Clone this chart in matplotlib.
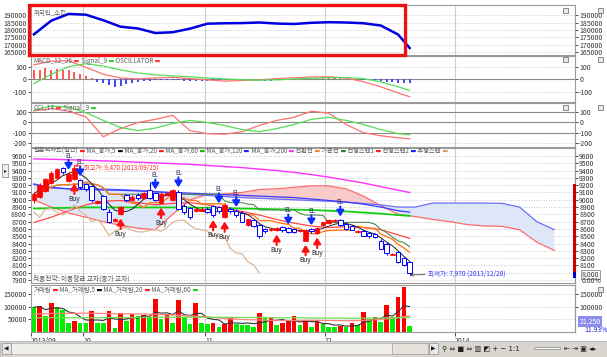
import numpy as np
import pandas as pd
import matplotlib
matplotlib.use("Agg")
import matplotlib.pyplot as plt
from matplotlib.patches import Rectangle

plt.rcParams['font.family'] = ['Noto Sans CJK KR', 'DejaVu Sans']
plt.rcParams['axes.unicode_minus'] = False

# ---------------- data ----------------
opens = [8990, 9040, 9120, 9230, 9300, 9430, 9260, 9290, 9270, 9210, 9190, 8960, 9050, 8830, 8710, 8800,
         9060, 8990, 9070, 9020, 9130, 9090, 8950, 9070, 8990, 9100, 8920, 8890, 8840, 8850, 8880, 8910,
         8900, 8770, 8880, 8850, 8820, 8650, 8720, 8660, 8600, 8580, 8580, 8630, 8610, 8600, 8570, 8440,
         8600, 8540, 8650, 8680, 8710, 8720, 8670, 8640, 8560, 8570, 8540, 8530, 8440, 8400, 8250, 8280,
         8200, 8150]
highs = [9100, 9230, 9300, 9390, 9440, 9450, 9380, 9470, 9290, 9230, 9200, 9000, 9070, 8870, 8750, 8920,
         9080, 9060, 9090, 9110, 9240, 9110, 9100, 9110, 9150, 9140, 8940, 8900, 8890, 8900, 8900, 8930,
         8920, 8950, 8900, 8870, 8850, 8740, 8740, 8670, 8620, 8610, 8630, 8640, 8630, 8610, 8590, 8600,
         8620, 8630, 8700, 8730, 8730, 8740, 8680, 8650, 8580, 8590, 8560, 8540, 8460, 8420, 8270, 8300,
         8210, 8160]
lows = [8960, 9020, 9100, 9210, 9280, 9350, 9240, 9270, 9150, 9120, 8970, 8940, 8860, 8680, 8690, 8790,
        8970, 8980, 9000, 9010, 9010, 8980, 8940, 9060, 8980, 8860, 8810, 8740, 8830, 8840, 8820, 8770,
        8820, 8750, 8820, 8770, 8690, 8640, 8630, 8480, 8550, 8570, 8570, 8560, 8550, 8540, 8560, 8430,
        8550, 8530, 8640, 8670, 8700, 8640, 8590, 8580, 8550, 8500, 8480, 8480, 8320, 8250, 8240, 8130,
        8090, 7970]
closes = [9080, 9200, 9280, 9370, 9420, 9380, 9350, 9440, 9170, 9150, 8990, 8980, 8880, 8700, 8730, 8900,
          8990, 9040, 9020, 9090, 9030, 9000, 9080, 9090, 9130, 8880, 8830, 8760, 8870, 8880, 8830, 8790,
          8840, 8930, 8840, 8790, 8700, 8730, 8640, 8510, 8570, 8600, 8620, 8580, 8560, 8560, 8580, 8590,
          8570, 8620, 8690, 8720, 8720, 8650, 8600, 8590, 8570, 8510, 8500, 8490, 8330, 8270, 8260, 8150,
          8110, 8000]
volumes = [96700, 103300, 62000, 112700, 96700, 86000, 32700, 43300, 35300, 32700, 83300, 35300, 34000,
           83300, 15300, 72700, 43300, 70000, 63300, 66000, 59300, 130000, 48700, 70000, 32700, 126000,
           59300, 30000, 112700,
           35300, 30000, 35800, 16700, 30000, 59300, 30000, 26000, 25000, 16700, 75300, 52700, 53500,
           26000, 32700, 43300, 62000, 26000, 46000, 19300, 42000, 28700, 19300, 19000, 22000, 16700,
           35300, 26000, 79300, 48700, 59300, 39300, 106000, 52700, 139000,
           179000, 21250]
el_signals = [6, 8, 21, 25, 32, 35, 44, 48, 53]
buy_signals = [7, 15, 22, 31, 33, 42, 47, 49]

line_idx = [0, 3, 6, 9, 12, 15, 18, 21, 24, 27, 30, 33, 36, 39, 42, 45, 48, 51, 54, 57, 60, 63, 65]
foreign_hold = [177100, 186200, 190700, 190200, 186500, 182200, 181000, 178000, 178500, 180900, 184200,
                184500, 184600, 185000, 184300, 184000, 184800, 185200, 185000, 184500, 183000, 177000, 168000]
macd_line = [115, 145, 148, 95, 40, 10, 3, 10, 15, 5, -5, -15, -10, -5, 5, 12, 18, 20, 10, -20, -60, -110, -140]
macd_signal = [-35, 40, 100, 125, 105, 75, 50, 35, 27, 20, 10, 2, -4, -7, -5, 2, 8, 12, 14, 5, -20, -60, -90]
macd_osc = [71, 76, 90, 76, 85, 76, 71, 57, 44, 27, 8, -19, -33, -46, -65, -55, -38, -27, -19, -14,
            -11, -8, -5, -3, -2, -6, -10, -12, -13, -12, -10, -9, -7, -5, -6, -7, -8, -10, -9, -11,
            -12, -10, -8, -5, -3, -2, 2, 4, 6, 8, 9, 10, 10, 8, 5, 3, 1, -2, -5, -9,
            -14, -18, -23, -27, -30, -32]
cci_line = [113, 135, 110, 55, -140, -60, 0, 30, 70, -80, -110, -115, -90, -30, 20, 50, 110, 90, -20, -100, -130, -150, -160]
cci_signal = [120, 160, 150, 95, 20, -50, -80, -55, -10, 20, 0, -30, -70, -90, -60, -20, 30, 50, 20, -20, -70, -110, -120]

ma20 = [8690, 8760, 8850, 8930, 8980, 8990, 8960, 8930, 8950, 8960, 8930, 8880, 8840, 8790, 8730, 8680,
        8640, 8620, 8630, 8620, 8590, 8520, 8470]
ma60 = [8880, 8885, 8890, 8895, 8895, 8895, 8895, 8895, 8895, 8893, 8890, 8885, 8880, 8875, 8870, 8865,
        8860, 8850, 8840, 8825, 8810, 8790, 8780]
ma120 = [9210, 9170, 9150, 9140, 9135, 9130, 9120, 9110, 9100, 9090, 9080, 9070, 9060, 9050, 9040, 9030,
         9010, 8990, 8970, 8940, 8900, 8850, 8830]
ma200 = [9560, 9555, 9548, 9540, 9533, 9525, 9515, 9505, 9495, 9485, 9470, 9455, 9440, 9420, 9400, 9375,
         9345, 9310, 9270, 9230, 9180, 9130, 9100]

span_idx = list(range(0, 91, 3))
span1 = [9000, 8900, 8820, 8760, 8700, 8650, 8610, 8590, 8800, 9000, 9070, 9080, 9100, 9140, 9150, 9170,
         9190, 9190, 9150, 9050, 8920, 8800, 8770, 8730, 8700, 8660, 8640, 8636, 8590, 8420, 8305]
span2 = [9220, 9160, 9150, 9150, 9145, 9140, 9130, 9110, 9090, 9075, 9060, 9045, 9030, 9020, 9010, 9000,
         8990, 8980, 8965, 8950, 8930, 8900, 8900, 8955, 8955, 8955, 8955, 8950, 8900, 8700, 8590]

vol_ma20 = [70000, 72000, 73000, 73000, 72000, 71000, 70000, 69000, 66000, 62000, 58000, 52000, 48000,
            46000, 44000, 44000, 45000, 44000, 43000, 44000, 48000, 56000, 62000]
vol_ma60 = [55000, 55000, 55000, 55000, 55000, 56000, 56000, 57000, 57000, 57000, 57000, 57000, 56000,
            56000, 55000, 55000, 54000, 54000, 53000, 53000, 54000, 55000, 56000]

month_pos = [-0.5, 8.5, 29.6, 50.3, 72.8]
month_labels = ['2013/09', '10', '11', '12', '2014']

# ---------------- derived ----------------
o = np.array(opens, float); h = np.array(highs, float)
l = np.array(lows, float); c = np.array(closes, float)
v = np.array(volumes, float)
idx = np.arange(len(c))
cs = pd.Series(c)
ma5 = cs.rolling(5, min_periods=1).mean()
conv = (pd.Series(h).rolling(9, min_periods=1).max() + pd.Series(l).rolling(9, min_periods=1).min()) / 2
base = (pd.Series(h).rolling(26, min_periods=1).max() + pd.Series(l).rolling(26, min_periods=1).min()) / 2
lag = cs.shift(-26)
vol_ma5 = pd.Series(v).rolling(5, min_periods=1).mean()

# ---------------- figure ----------------
W, H = 607, 357
fig = plt.figure(figsize=(W / 100, H / 100), dpi=100)
fig.patch.set_facecolor('white')

def pax(x0, y0, x1, y1):
    return fig.add_axes([x0 / W, 1 - y1 / H, (x1 - x0) / W, (y1 - y0) / H])

X0, X1 = 31, 575
ax_top = pax(X0, 5, X1, 55)
ax_macd = pax(X0, 56, X1, 102)
ax_cci = pax(X0, 103, X1, 147)
ax_p = pax(X0, 148, X1, 283)
ax_v = pax(X0, 285, X1, 332)
XLIM = (-0.5, 93.6)
TXT = '#303030'
GRAY = '#5a5a5a'
TFS = 5.0   # tick font size
LFS = 4.6   # legend font size

def style(ax, ylim, yticks, right=True, grid=True):
    ax.set_xlim(*XLIM)
    ax.set_ylim(*ylim)
    ax.set_yticks(yticks)
    ax.tick_params(axis='y', left=True, right=right, labelleft=True, labelright=right,
                   direction='out', length=2, width=0.6, pad=1, labelsize=TFS, colors=TXT)
    ax.tick_params(axis='x', bottom=False, labelbottom=False)
    for s in ax.spines.values():
        s.set_color('#9a9a9a'); s.set_linewidth(0.8)
    if grid:
        ax.grid(axis='y', linestyle=(0, (1, 2)), color='#b8b8b8', lw=0.6)
    ax.grid(axis='x', visible=False)
    for p in month_pos[1:]:
        ax.axvline(p, color='#cfcfcf', lw=0.8, zorder=0)
    ax.set_axisbelow(True)

def legend_row(ax, items, fs=LFS, x=0.004, y=0.985):
    prev = ax.text(x, y, items[0][0], transform=ax.transAxes, fontsize=fs, color=items[0][1],
                   va='top', ha='left', zorder=10)
    for txt, col in items[1:]:
        prev = ax.annotate(txt, xy=(1, 0), xycoords=prev, fontsize=fs, color=col,
                           va='bottom', ha='left', zorder=10, annotation_clip=False)

def mk(col):
    return (' ▬', col)

# ---- top: foreign holdings ----
style(ax_top, (163333, 196667), [165000, 170000, 175000, 180000, 185000, 190000])
ax_top.plot(line_idx, foreign_hold, color='#0000e0', lw=1.8, zorder=3)
legend_row(ax_top, [('외국인_소진', GRAY)], y=0.93)

# ---- MACD ----
style(ax_macd, (-182, 186), [-100, 0, 100])
ax_macd.axhline(0, color='#8a8a8a', lw=0.8, zorder=1)
osc = np.array(macd_osc, float)
ax_macd.bar(idx, osc, width=0.35, color=np.where(osc >= 0, '#ff5a5a', '#4848ff'), zorder=2)
ax_macd.plot(line_idx, macd_line, color='#ff7070', lw=0.9, zorder=3)
ax_macd.plot(line_idx, macd_signal, color='#55dd55', lw=0.9, zorder=3)
legend_row(ax_macd, [('MACD_12_26', GRAY), mk('#ff4040'), (' Signal_9', GRAY), mk('#30d030'),
                     (' OSCILLATOR', GRAY), mk('#ff4040')])

# ---- CCI ----
style(ax_cci, (-240, 190), [-200, -100, 0, 100])
for lvl in (100, 0, -100):
    ax_cci.axhline(lvl, color='#8a8a8a', lw=0.8, zorder=1)
ax_cci.plot(line_idx, cci_line, color='#ff7070', lw=0.9, zorder=3)
ax_cci.plot(line_idx, cci_signal, color='#55dd55', lw=0.9, zorder=3)
legend_row(ax_cci, [('CCI_14', GRAY), mk('#ff4040'), (' Signal_9', GRAY), mk('#30d030')])

# ---- price ----
style(ax_p, (7860, 9709), list(range(7900, 9700, 100)), right=False)
s1 = np.array(span1, float); s2 = np.array(span2, float)
ax_p.fill_between(span_idx, s1, s2, where=s2 >= s1, interpolate=True, color='#dde7f8', lw=0, zorder=1)
ax_p.fill_between(span_idx, s1, s2, where=s1 > s2, interpolate=True, color='#f8caca', lw=0, zorder=1)
ax_p.plot(span_idx, span1, color='#ff6a6a', lw=0.9, zorder=2)
ax_p.plot(span_idx, span2, color='#6d6dff', lw=0.9, zorder=2)
ax_p.plot(line_idx, ma200, color='#ff30ff', lw=1.0, zorder=2)
ax_p.plot(line_idx, ma120, color='#3a3aff', lw=0.9, zorder=2)
ax_p.plot(line_idx, ma60, color='#10d010', lw=1.3, zorder=2)
ax_p.plot(line_idx, ma20, color='#ff4848', lw=0.9, zorder=2)
ax_p.plot(idx, lag, color='#dcb898', lw=0.9, zorder=2)
ax_p.plot(idx, base, color='#4f8a4f', lw=0.8, zorder=2)
ax_p.plot(idx, conv, color='#ff7a20', lw=1.0, zorder=2)
ax_p.plot(idx, ma5, color='#222222', lw=0.7, zorder=3)

up = c >= o
body_b = np.minimum(o, c)
body_h = np.maximum(np.abs(c - o), 9)
ax_p.vlines(idx[up], l[up], h[up], color='#ff0000', lw=0.8, zorder=4)
ax_p.vlines(idx[~up], l[~up], h[~up], color='#0000ff', lw=0.8, zorder=4)
ax_p.bar(idx[up], body_h[up], bottom=body_b[up], width=0.78, color='#ff0000', edgecolor='#ff0000', lw=0.5, zorder=5)
ax_p.bar(idx[~up], body_h[~up], bottom=body_b[~up], width=0.78, facecolor='white', edgecolor='#0000ff', lw=0.7, zorder=5)

for i in el_signals:
    ax_p.annotate('', xy=(i, h[i]), xytext=(0, 8.8), textcoords='offset points',
                  arrowprops=dict(arrowstyle='-|>,head_width=0.22,head_length=0.35', color='#0a2cff',
                                  lw=1.5, shrinkA=0, shrinkB=1.6), zorder=6)
    ax_p.annotate('EL', xy=(i, h[i]), xytext=(0, 9.0), textcoords='offset points', ha='center',
                  va='bottom', fontsize=4.4, color='#202060', zorder=6)
for i in buy_signals:
    ax_p.annotate('', xy=(i, l[i]), xytext=(0, -10), textcoords='offset points',
                  arrowprops=dict(arrowstyle='-|>,head_width=0.22,head_length=0.35', color='#ff1010',
                                  lw=1.5, shrinkA=0, shrinkB=2.5), zorder=6)
    ax_p.annotate('Buy', xy=(i, l[i]), xytext=(0, -10.5), textcoords='offset points', ha='center',
                  va='top', fontsize=4.8, color='#202020', zorder=6)

ih = int(np.argmax(h)); il = int(np.argmin(l))
ax_p.annotate('최고가: 9,470 (2013/09/25)', xy=(ih, h[ih]), xytext=(6.8, -1.6), textcoords='offset points',
              fontsize=4.5, color='#ff2a2a', va='center', ha='left', zorder=7,
              arrowprops=dict(arrowstyle='->', color='#ff2a2a', lw=0.6, shrinkA=0, shrinkB=0))
ax_p.annotate('최저가: 7,970 (2013/12/20)', xy=(il, l[il]), xytext=(13, 1), textcoords='offset points',
              fontsize=4.7, color='#3030ff', va='center', ha='left', zorder=7,
              arrowprops=dict(arrowstyle='->', color='#404040', lw=0.6, shrinkA=0, shrinkB=0))

legend_row(ax_p, [('일본식차트(일간)', GRAY), mk('#ff2020'), (' MA_종가,5', GRAY), mk('#111111'),
                  (' MA_종가,20', GRAY), mk('#ff2020'), (' MA_종가,60', GRAY), mk('#10c010'),
                  (' MA_종가,120', GRAY), mk('#2020ff'), (' MA_종가,200', GRAY), mk('#ff30ff'),
                  (' 전환선', GRAY), mk('#ff8020'), (' 기준선', GRAY), mk('#3a7a3a'),
                  (' 선행스팬1', GRAY), mk('#ff2020'), (' 선행스팬2', GRAY), mk('#2020ff'),
                  (' 후행스팬', GRAY), mk('#d8a060')], fs=4.5, y=1.008)
ax_p.text(0.004, 0.005, '적용전략: 이동평균 교차(종가 교차)', transform=ax_p.transAxes, fontsize=LFS + 0.2,
          color=GRAY, va='bottom', ha='left', zorder=10)

axr = ax_p.twinx()
axr.set_ylim(ax_p.get_ylim())
axr.set_yticks(list(range(8100, 9700, 100)))
axr.tick_params(axis='y', right=True, labelright=True, direction='out', length=2, width=0.6, pad=1,
                labelsize=TFS, colors=TXT)
for k, s in axr.spines.items():
    s.set_visible(k == 'right'); s.set_color('#9a9a9a'); s.set_linewidth(0.8)
axr.text(1.012, 7975, '8,000', transform=axr.get_yaxis_transform(), fontsize=TFS, color=TXT,
         va='center', ha='left', bbox=dict(boxstyle='square,pad=0.1', fc='white', ec='#707070', lw=0.5))
axr.text(1.012, 7885, '0.00%', transform=axr.get_yaxis_transform(), fontsize=TFS, color=TXT,
         va='center', ha='left')

# ---- volume ----
style(ax_v, (-2000, 186000), [50000, 100000, 150000], right=False)
vcol = ['#00ee00'] + ['#ff0000' if v[k] > v[k - 1] else '#00ee00' for k in range(1, len(v))]
ax_v.bar(idx, v, width=0.8, color=vcol, zorder=2)
ax_v.plot(idx, vol_ma5, color='#333333', lw=0.8, zorder=3)
ax_v.plot(line_idx, vol_ma20, color='#ff8080', lw=0.9, zorder=3)
ax_v.plot(line_idx, vol_ma60, color='#70dd50', lw=0.9, zorder=3)
legend_row(ax_v, [('거래량', GRAY), mk('#ff2020'), (' MA_거래량,5', GRAY), mk('#111111'),
                  (' MA_거래량,20', GRAY), mk('#ff2020'), (' MA_거래량,60', GRAY), mk('#20d020')])
ax_v.set_xticks(month_pos)
ax_v.set_xticklabels(month_labels)
ax_v.tick_params(axis='x', bottom=True, labelbottom=True, direction='out', length=3, width=0.6,
                 pad=0.5, labelsize=TFS, colors=TXT)
for lb in ax_v.get_xticklabels():
    lb.set_ha('left')
avr = ax_v.twinx()
avr.set_ylim(ax_v.get_ylim())
avr.set_yticks([100000, 150000])
avr.tick_params(axis='y', right=True, labelright=True, direction='out', length=2, width=0.6, pad=1,
                labelsize=TFS, colors=TXT)
for k, s in avr.spines.items():
    s.set_visible(k == 'right'); s.set_color('#9a9a9a'); s.set_linewidth(0.8)
avr.text(1.008, 0.22, f'{int(v[-1]):,}', transform=avr.transAxes, fontsize=TFS, color='white',
         va='center', ha='left', bbox=dict(boxstyle='square,pad=0.25', fc='#8c8cf0', ec='none'))
avr.text(1.018, 0.05, '11.93%', transform=avr.transAxes, fontsize=TFS, color='#2020d0',
         va='center', ha='left')

# ---- decorations ----
def fig_rect(x, y, w, hh, **kw):
    fig.add_artist(Rectangle((x / W, 1 - (y + hh) / H), w / W, hh / H, transform=fig.transFigure, **kw))

def fig_txt(x, y, s, fs=5.0, **kw):
    fig.text(x / W, 1 - y / H, s, fontsize=fs, va='center', color='#202020', family='DejaVu Sans', **kw)

fig_rect(573, 184, 3, 88, fc='#cc0000', ec='none')
fig_rect(573, 272, 3, 6, fc='#0000cc', ec='none')
fig_rect(29, 5, 376, 50, fill=False, ec='#ee1111', lw=2.4)
for yy in (8, 57, 105):
    fig_rect(563, yy, 5, 5, fc='#e8e8e8', ec='#606060', lw=0.5)
    fig_rect(598, yy, 5, 5, fc='#e8e8e8', ec='#606060', lw=0.5)
fig_rect(598, 287, 5, 5, fc='#e8e8e8', ec='#606060', lw=0.5)
fig_rect(2, 164, 6, 13, fc='#eeeeee', ec='#808080', lw=0.5)
fig_txt(5, 170.5, '▸', fs=4.0, ha='center')
# toolbar
fig_rect(0, 341, 607, 16, fc='#d8d6ce', ec='#a8a8a8', lw=0.5)
fig_rect(11, 343, 418, 11, fc='#f0efe9', ec='#b0b0b0', lw=0.5)
fig_rect(392, 343, 36, 11, fc='#e4e2da', ec='#a0a0a0', lw=0.5)
fig_rect(2, 343, 9, 11, fc='#e8e8e8', ec='#909090', lw=0.5)
fig_rect(429, 343, 9, 11, fc='#e8e8e8', ec='#909090', lw=0.5)
fig_txt(6.5, 348.5, '◀', fs=4.2, ha='center')
fig_txt(433.5, 348.5, '▶', fs=4.2, ha='center')
fig_txt(442, 349, '⚲ ⇔ ■ ⇔ ▥ ◩ + − 1:1', fs=5.0, ha='left')
fig_rect(534, 347, 26, 2, fc='#ffffff', ec='#808080', lw=0.5)
fig_txt(564, 349, '⇤ ⇥ ▣ ◂▸', fs=5.0, ha='left')

fig.savefig('out.png', dpi=100)
